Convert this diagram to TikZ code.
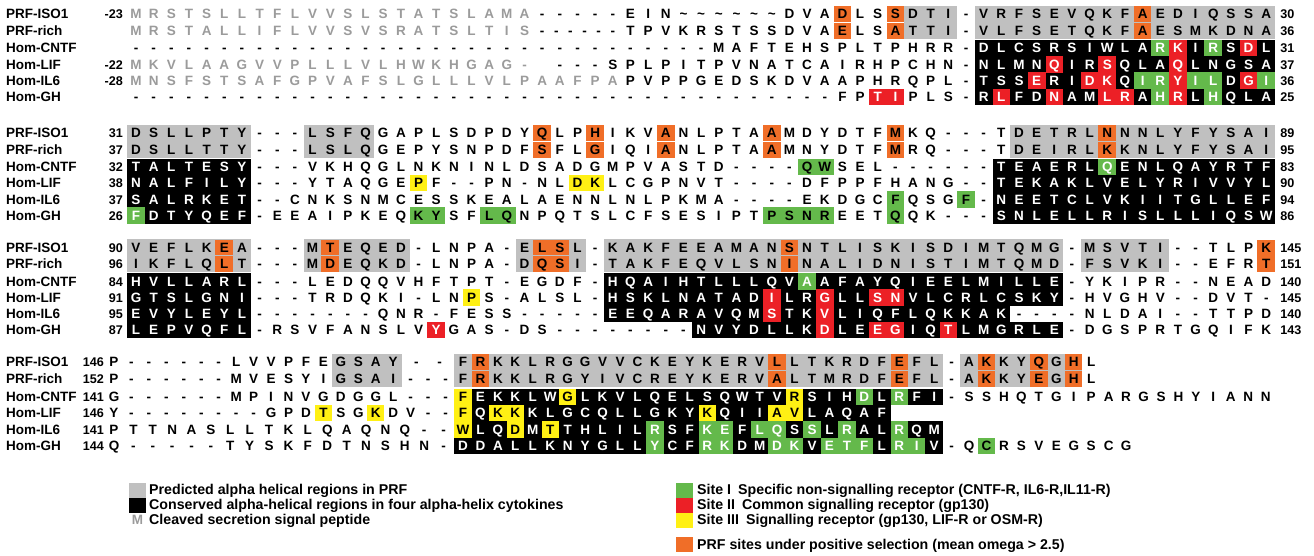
\documentclass[tikz,border=0pt]{standalone}
\usepackage{fontspec}
\setmainfont{Liberation Sans}
\definecolor{helixgrey}{RGB}{192,192,192}
\definecolor{sigtext}{RGB}{155,155,155}
\definecolor{selorange}{RGB}{240,110,40}
\definecolor{sitered}{RGB}{236,32,38}
\definecolor{sitegreen}{RGB}{100,185,75}
\definecolor{siteyellow}{RGB}{255,240,20}

% column origin and pitch of the current alignment block
\newcommand\blockat[2]{\def\xo{#1}\def\pt{#2}}
% shaded cells: y, first column, last column, colour
\newcommand\bgcell[4]{\fill[#4] ({\xo+(#2-0.5)*\pt},{#1-8.4}) rectangle ({\xo+(#3+0.5)*\pt},{#1+8.4});}
\newcommand\bgcells[3]{\foreach \cl in {#2}{\bgcell{#1}{\cl}{\cl}{#3}}}
\newcommand\selcells[2]{\foreach \cl in {#2}{\fill[selorange] ({\xo+(\cl-0.5)*\pt},{#1-8}) rectangle ({\xo+(\cl+0.5)*\pt},{#1+8});}}

% residue rows: y, first column, column step, residues
%  ! white text, * black text, @ grey text, lower case = black text,
%  = tilde, . empty column
\newcount\sqcnt
\newcommand\seqrow[4]{\def\sqy{#1}\def\sqstart{#2}\def\sqstep{#3}\def\sqcol{black}\sqcnt=0 \sqparse#4\relax}
\def\sqparse#1{\ifx#1\relax\else\sqput{#1}\expandafter\sqparse\fi}
\def\sqput#1{%
  \ifnum`#1=33 \def\sqcol{white}\else
  \ifnum`#1=42 \def\sqcol{black}\else
  \ifnum`#1=64 \def\sqcol{sigtext}\else
  \pgfmathsetmacro\sqx{\xo+(\sqstart+\the\sqcnt*\sqstep)*\pt}%
  \ifnum`#1=46 \else
  \ifnum`#1=61 \node[res,text=\sqcol] at (\sqx,{\sqy+4.8}) {\textasciitilde};\else
  \ifnum`#1>96 \node[res,text=black] at (\sqx,{\sqy+4.8}) {\uppercase{#1}};\else
  \node[res,text=\sqcol] at (\sqx,{\sqy+4.8}) {#1};\fi\fi\fi
  \advance\sqcnt by 1
  \fi\fi\fi}

\newcommand\lbl[2]{\node[lab] at (6,{#1+4.8}) {#2};}
\newcommand\names[6]{\lbl{#1}{PRF-ISO1}\lbl{#2}{PRF-rich}\lbl{#3}{Hom-CNTF}\lbl{#4}{Hom-LIF}\lbl{#5}{Hom-IL6}\lbl{#6}{Hom-GH}}
\newcommand\lnum[2]{\node[num,anchor=base east] at ({\xo-\numgap},{#1+4.6}) {#2};}
\newcommand\rnum[2]{\node[num,anchor=base west] at ({\xo+64.5*\pt+5},{#1+4.6}) {#2};}
\def\numgap{13}

\begin{document}
\begin{tikzpicture}[x=1pt,y=-1pt,
  res/.style={font=\fontsize{13.5}{14}\selectfont\bfseries, inner sep=0pt, anchor=base},
  lab/.style={font=\fontsize{13.5}{14}\selectfont\bfseries, inner sep=0pt, anchor=base west},
  num/.style={font=\fontsize{12.6}{14}\selectfont\bfseries, inner sep=0pt},
  legtext/.style={font=\fontsize{14.2}{15}\selectfont\bfseries, inner sep=0pt, anchor=base west}]
\useasboundingbox[fill=white] (0,0) rectangle (1314,555);

%================ block 1 ================
\blockat{136}{17.66}
\foreach \y in {14,30.5}{\bgcell{\y}{44}{46}{helixgrey}\bgcell{\y}{48}{64}{helixgrey}\selcells{\y}{40,43,57}}
\foreach \y in {48,64.5,80.5,97}{\bgcell{\y}{48}{64}{black}}
\bgcells{48}{58,61}{sitegreen}\bgcells{48}{59,63}{sitered}
\bgcells{64.5}{52,55,59}{sitered}
\bgcells{80.5}{51,54,55,59,63}{sitered}\bgcells{80.5}{57,58,60,61,64}{sitegreen}
\bgcell{97}{42}{43}{sitered}
\bgcells{97}{49,52,55,56,59}{sitered}\bgcells{97}{58,61}{sitegreen}
\names{14}{30.5}{48}{64.5}{80.5}{97}
\seqrow{14}{0}{1}{@MRSTSLLTFLVVSLSTATSLAMA *----- EIN ====== DVADLSSDTI - VRFSEVQKFAEDIQSSA}
\seqrow{30.5}{0}{1}{@MRSTALLIFLVVSVSRATSLTIS}
\seqrow{30.5}{23}{0.8}{------}
\seqrow{30.5}{28}{1}{TPV KRSTSS DVAELSATTI - VLFSETQKFAESMKDNA}
\seqrow{48}{0}{1}{---------- ---------- ---------- --- MAFTEHSPLTPHRR - !DLCSRSIWLARKIRSDL}
\seqrow{64.5}{0}{1}{@MKVLAAGVVPLLLVLHWKHGAG - . *--- SPLPITPVNATCAIRHPCHN - !NLMNQIRSQLAQLNGSA}
\seqrow{80.5}{0}{1}{@MNSFSTSAFGPVAFSLGLLLVLPAAFPA *PVPPGEDSKDVAAPHRQPL - !TSSERIDKQIRYILDGI}
\seqrow{97}{0}{1}{---------- ---------- ---------- ---------- FP!TI*PLS - !RLFDNAMLRAHRLHQLA}
\lnum{14}{-23}\lnum{64.5}{-22}\lnum{80.5}{-28}
\rnum{14}{30}\rnum{30.5}{36}\rnum{48}{31}\rnum{64.5}{37}\rnum{80.5}{36}\rnum{97}{25}

%================ block 2 ================
\blockat{136}{17.66}
\foreach \y in {133,149.5}{\bgcell{\y}{0}{6}{helixgrey}\bgcell{\y}{10}{13}{helixgrey}\bgcell{\y}{50}{64}{helixgrey}\selcells{\y}{23,26,30,36,43,55}}
\foreach \y in {167,183,199.5,215.5}{\bgcell{\y}{0}{6}{black}\bgcell{\y}{49}{64}{black}}
\bgcells{167}{38,39,55}{sitegreen}
\bgcells{183}{16,25,26}{siteyellow}
\bgcells{199.5}{43,47}{sitegreen}
\bgcells{215.5}{0,16,17,20,21,36,37,38,39,43}{sitegreen}
\names{133}{149.5}{167}{183}{199.5}{215.5}
\seqrow{133}{0}{1}{DSLLPTY --- LSFQ GAPLSDPDYQLPHIKVANLPTAAMDYDTFMKQ --- T DETRLNNNLYFYSAI}
\seqrow{149.5}{0}{1}{DSLLTTY --- LSLQ GEPYSNPDFSFLGIQIANLPTAAMNYDTFMRQ --- T DEIRLKKNLYFYSAI}
\seqrow{167}{0}{1}{!TALTESY *--- VKHQGLNKNINLDSADGMPVASTD ---- QWSEL ------ !TEAERLQENLQAYRTF}
\seqrow{183}{0}{1}{!NALFILY *--- YTAQGEPF--PN-NLDKLCGPNVT ---- DFPPFHANG -- !TEKAKLVELYRIVVYL}
\seqrow{199.5}{0}{1}{!SALRKET *-- CNKSNMCESSKEALAENNLNLPKMA ---- EKDGCFQSGF - !NEETCLVKIITGLLEF}
\seqrow{215.5}{0}{1}{!FDTYQEF *- EEAIPKEQKYSFLQNPQTSLCFSESIPTPSNREETQQK --- !SNLELLRISLLLIQSW}
\lnum{133}{31}\lnum{149.5}{37}\lnum{167}{32}\lnum{183}{38}\lnum{199.5}{37}\lnum{215.5}{26}
\rnum{133}{89}\rnum{149.5}{95}\rnum{167}{83}\rnum{183}{90}\rnum{199.5}{94}\rnum{215.5}{86}

%================ block 3 ================
\blockat{136}{17.66}
\foreach \y in {247.5,263.5}{\bgcell{\y}{0}{6}{helixgrey}\bgcell{\y}{10}{15}{helixgrey}\bgcell{\y}{22}{25}{helixgrey}\bgcell{\y}{27}{52}{helixgrey}\bgcell{\y}{54}{58}{helixgrey}\selcells{\y}{5,11,23,24,37,64}}
\foreach \y in {281.5,297.5,313.5,330}{\bgcell{\y}{0}{6}{black}}
\bgcell{281.5}{27}{52}{black}\bgcell{297.5}{27}{52}{black}
\bgcell{313.5}{27}{49}{black}\bgcell{330}{32}{52}{black}
\bgcells{281.5}{38}{sitegreen}
\bgcells{297.5}{19}{siteyellow}\bgcells{297.5}{36,39,42,43}{sitered}
\bgcells{313.5}{36,39}{sitered}
\bgcells{330}{17,39,42,43,46}{sitered}
\names{247.5}{263.5}{281.5}{297.5}{313.5}{330}
\seqrow{247.5}{0}{1}{VEFLKEA --- MTEQED - LNPA - ELSL - KAKFEEAMANSNTLISKISDIMTQMG - MSVTI -- TLPK}
\seqrow{263.5}{0}{1}{IKFLQLT --- MDEQKD - LNPA - DQSI - TAKFEQVLSNINALIDNISTIMTQMD - FSVKI -- EFRT}
\seqrow{281.5}{0}{1}{!HVLLARL *--- LEDQQVHFTPT - EGDF - !HQAIHTLLLQVAAFAYQIEELMILLE *- YKIPR -- NEAD}
\seqrow{297.5}{0}{1}{!GTSLGNI *--- TRDQKI - LNPS - ALSL - !HSKLNATADILRGLLSNVLCRLCSKY *- HVGHV -- DVT -}
\seqrow{313.5}{0}{1}{!EVYLEYL *------- QNR - FESS ----- !EEQARAVQMSTKVLIQFLQKKAK *---- NLDAI -- TTPD}
\seqrow{330}{0}{1}{!LEPVQFL *- RSVFANSLV!Y*GAS - DS -------- !NVYDLLKDLEEGIQTLMGRLE *- DGSPRTGQIFK}
\lnum{247.5}{90}\lnum{263.5}{96}\lnum{281.5}{84}\lnum{297.5}{91}\lnum{313.5}{95}\lnum{330}{87}
\rnum{247.5}{145}\rnum{263.5}{151}\rnum{281.5}{140}\rnum{297.5}{145}\rnum{313.5}{140}\rnum{330}{143}

%================ block 4 ================
\blockat{114}{17.45}
\def\numgap{10}
\foreach \y in {362,378.5}{\bgcell{\y}{13}{16}{helixgrey}\bgcell{\y}{20}{47}{helixgrey}\bgcell{\y}{49}{55}{helixgrey}\selcells{\y}{21,38,45,50,53,55}}
\bgcell{397}{20}{47}{black}\bgcell{413}{20}{44}{black}
\bgcell{429.5}{20}{47}{black}\bgcell{446}{20}{47}{black}
\bgcells{397}{20,26,39}{siteyellow}\bgcells{397}{43,45}{sitegreen}
\bgcells{413}{12,15,20,22,23,34,38,39}{siteyellow}
\bgcells{429.5}{20,23,25}{siteyellow}\bgcells{429.5}{31,34,35,37,38,40,42,45}{sitegreen}
\bgcells{446}{31,34,35,38,39,41,42,43,45,46,50}{sitegreen}
\names{362}{378.5}{397}{413}{429.5}{446}
\seqrow{362}{0}{1}{P ------ LVVPFE GSAY}
\seqrow{362}{17.33}{1.33}{--}
\seqrow{362}{20}{1}{FRKKLRGGVVCKEYKERVLLTKRDFEFL - AKKYQGHL}
\seqrow{378.5}{0}{1}{P ------ MVESYI GSAI --- FRKKLRGYIVCREYKERVALTMRDFEFL - AKKYEGHL}
\seqrow{397}{0}{1}{G ------ MPINVGDGGL --- !fEKKLWgLKVLQELSQWTVrSIHDLRFI *- SSHQTGIPARGSHYIANN}
\seqrow{413}{0}{1}{Y -------- GPDTSGKDV -- !fQkkKLGCQLLGKYkQIIavLAQAF}
\seqrow{429.5}{0}{1.111}{PTTNASLLTKLQAQNQ --}
\seqrow{429.5}{20}{1}{!wLQdMtTHLILRSFKEFLQSSLRALRQM}
\seqrow{446}{0}{1.111}{Q ----- TYSKFDTNSHN -}
\seqrow{446}{20}{1}{!DDALLKNYGLLYCFRKDMDKVETFLRIV *- QCRSVEGSCG}
\lnum{362}{146}\lnum{378.5}{152}\lnum{397}{141}\lnum{413}{146}\lnum{429.5}{141}\lnum{446}{144}

%================ legend ================
\fill[helixgrey] (129,482.5) rectangle (146,497.5);
\fill[black] (129,497.5) rectangle (146,512.5);
\node[res,text=sigtext] at (137.5,524.8) {M};
\node[legtext] at (149,494.8) {Predicted alpha helical regions in PRF};
\node[legtext] at (149,509.8) {Conserved alpha-helical regions in four alpha-helix cytokines};
\node[legtext] at (149,524.8) {Cleaved secretion signal peptide};
\fill[sitegreen] (676,482.5) rectangle (693,497.5);
\fill[sitered] (676,497.5) rectangle (693,512.5);
\fill[siteyellow] (676,512.5) rectangle (693,527.5);
\fill[selorange] (676,537) rectangle (693,552);
\node[legtext] at (697,494.8) {Site I\hspace{0.5em}Specific non-signalling receptor (CNTF-R, IL6-R,IL11-R)};
\node[legtext] at (697,509.8) {Site II\hspace{0.5em}Common signalling receptor (gp130)};
\node[legtext] at (697,524.8) {Site III\hspace{0.5em}Signalling receptor (gp130, LIF-R or OSM-R)};
\node[legtext] at (697,549.3) {PRF sites under positive selection (mean omega > 2.5)};
\end{tikzpicture}
\end{document}
